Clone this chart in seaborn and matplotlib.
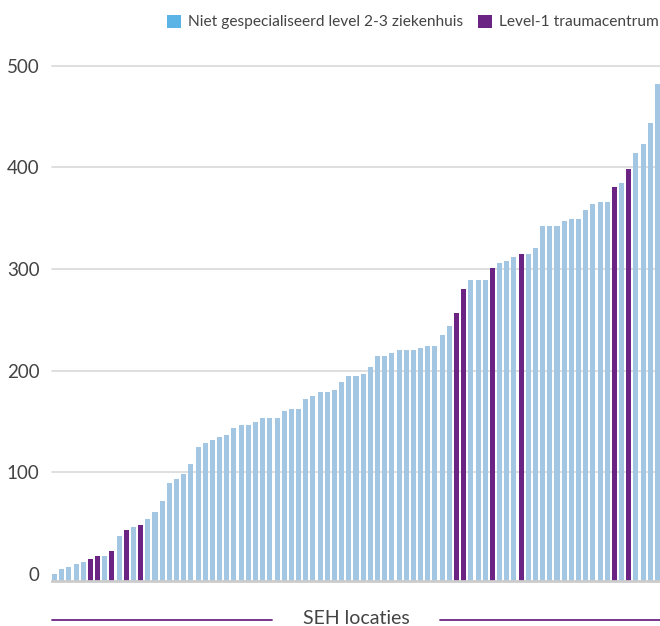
import numpy as np
import pandas as pd
import matplotlib
matplotlib.use("Agg")
import matplotlib.pyplot as plt
from matplotlib.patches import Patch
from matplotlib.lines import Line2D
import seaborn as sns

# waarden per SEH locatie, oplopend gesorteerd
values = [0, 5, 7, 10, 12, 15, 18, 18, 23, 37,
          43, 46, 48, 54, 61, 72, 89, 93, 98, 108,
          125, 129, 132, 135, 137, 144, 146, 146, 149, 153,
          153, 153, 160, 162, 162, 172, 175, 179, 179, 181,
          189, 195, 195, 197, 204, 214, 214, 217, 220, 220,
          220, 222, 224, 224, 235, 244, 257, 280, 289, 289,
          289, 301, 306, 308, 312, 315, 315, 321, 342, 342,
          342, 347, 349, 349, 358, 364, 366, 366, 381, 385,
          398, 414, 423, 444, 482]
# posities (1-based) van de level-1 traumacentra
level1 = [6, 7, 9, 11, 13, 57, 58, 62, 66, 79, 81]

cat_regular = "Niet gespecialiseerd level 2-3 ziekenhuis"
cat_level1 = "Level-1 traumacentrum"
yticks = [0, 100, 200, 300, 400, 500]
x_label = "SEH locaties"

blue_bar = "#a3c6e3"
blue_legend = "#5cb3e6"
purple = "#6b2483"
YMIN = -7

df = pd.DataFrame({
    "loc": np.arange(len(values)),
    "value": values,
    "type": [cat_level1 if i + 1 in level1 else cat_regular for i in range(len(values))],
})
df["height"] = df["value"] - YMIN

sns.set_style("white")
plt.rcParams["font.family"] = ["Lato", "DejaVu Sans"]

fig = plt.figure(figsize=(6.6, 6.26), dpi=100)
ax = fig.add_axes([52 / 660, (626 - 581) / 626, 608 / 660, (581 - 65.7) / 626])

sns.barplot(data=df, x="loc", y="height", hue="type", dodge=False, width=0.7,
            palette={cat_regular: blue_bar, cat_level1: purple}, saturation=1,
            legend=False, bottom=YMIN, linewidth=0, ax=ax)

ax.set_xlim(-0.35, len(values) - 1 + 0.35)
ax.set_ylim(YMIN, 500)
ax.set_yticks(yticks)
ax.set_yticklabels([str(t) for t in yticks], fontsize=13.5, color="#444444")
ax.tick_params(axis="y", length=0, pad=9)
ax.set_xticks([])
ax.set_xlabel("")
ax.set_ylabel("")
ax.yaxis.grid(True, color="#d9d9d9", linewidth=1.2)
ax.set_axisbelow(True)
for gl in ax.yaxis.get_gridlines():
    gl.set_clip_on(False)
ax.yaxis.get_gridlines()[0].set_visible(False)
for s in ["top", "right", "left"]:
    ax.spines[s].set_visible(False)
ax.spines["bottom"].set_color("#cccccc")
ax.spines["bottom"].set_linewidth(2)

handles = [Patch(facecolor=blue_legend, edgecolor="none", label=cat_regular),
           Patch(facecolor=purple, edgecolor="none", label=cat_level1)]
fig.legend(handles=handles, loc="upper right", bbox_to_anchor=(1.02, 0.999), ncol=2,
           frameon=False, fontsize=11.2, handlelength=0.9, handleheight=0.9,
           handletextpad=0.45, columnspacing=1.0, labelcolor="#444444")

fig.text(356 / 660, (626 - 618) / 626, x_label, ha="center", va="center",
         fontsize=14, color="#444444")
fig.add_artist(Line2D([52 / 660, 272 / 660], [(626 - 620) / 626] * 2, color=purple, lw=1.3))
fig.add_artist(Line2D([440 / 660, 660 / 660], [(626 - 620) / 626] * 2, color=purple, lw=1.3))

fig.savefig("out.png", dpi=100)
